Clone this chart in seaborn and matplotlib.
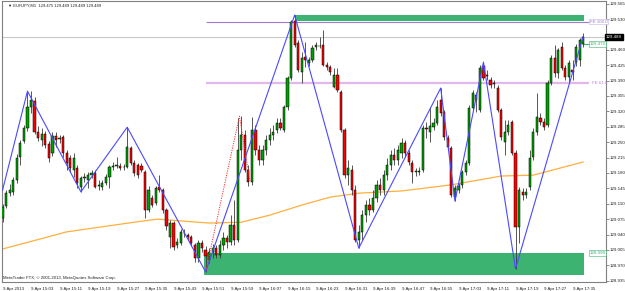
import numpy as np
import pandas as pd
import seaborn as sns
import matplotlib.pyplot as plt
from matplotlib.patches import Rectangle

sns.set_theme(style="white")
plt.rcParams['font.family'] = ['Liberation Sans', 'DejaVu Sans']

# EURJPY M1 bars, 14:55 .. 17:38
opens = [129.078, 129.105, 129.134, 129.137, 129.164, 129.216, 129.253, 129.282, 129.330, 129.343,
         129.273, 129.255, 129.268, 129.246, 129.225, 129.264, 129.257, 129.262, 129.225, 129.214,
         129.187, 129.191, 129.148, 129.168, 129.164, 129.175, 129.180, 129.150, 129.148, 129.157,
         129.171, 129.193, 129.196, 129.196, 129.193, 129.193, 129.237, 129.203, 129.198, 129.196,
         129.182, 129.096, 129.123, 129.112, 129.148, 129.141, 129.096, 129.034, 129.066, 129.016,
         129.021, 129.044, 129.039, 129.034, 129.016, 128.987, 129.021, 129.005, 128.982, 129.000,
         129.009, 128.994, 129.016, 129.032, 129.023, 129.062, 129.028, 129.232, 129.266, 129.187,
         129.159, 129.278, 129.232, 129.209, 129.232, 129.255, 129.266, 129.278, 129.293, 129.278,
         129.330, 129.396, 129.525, 129.475, 129.409, 129.443, 129.430, 129.437, 129.466, 129.468,
         129.471, 129.425, 129.421, 129.375, 129.402, 129.364, 129.278, 129.175, 129.187, 129.141,
         129.028, 129.046, 129.084, 129.107, 129.096, 129.123, 129.152, 129.141, 129.175, 129.198,
         129.221, 129.209, 129.225, 129.248, 129.225, 129.203, 129.182, 129.182, 129.187, 129.282,
         129.273, 129.284, 129.293, 129.346, 129.318, 129.259, 129.237, 129.125, 129.141, 129.152,
         129.182, 129.203, 129.327, 129.346, 129.323, 129.423, 129.402, 129.391, 129.384, 129.373,
         129.323, 129.250, 129.273, 129.296, 129.225, 129.057, 129.137, 129.130, 129.148, 129.216,
         129.273, 129.305, 129.296, 129.289, 129.384, 129.441, 129.407, 129.466, 129.418, 129.398,
         129.414, 129.432, 129.437, 129.473]
highs = [129.109, 129.141, 129.155, 129.171, 129.223, 129.255, 129.289, 129.364, 129.366, 129.353,
         129.287, 129.282, 129.275, 129.253, 129.273, 129.273, 129.266, 129.266, 129.232, 129.221,
         129.225, 129.198, 129.173, 129.180, 129.182, 129.187, 129.187, 129.164, 129.164, 129.178,
         129.198, 129.205, 129.216, 129.203, 129.200, 129.284, 129.241, 129.209, 129.203, 129.203,
         129.187, 129.150, 129.130, 129.150, 129.175, 129.146, 129.100, 129.073, 129.071, 129.032,
         129.053, 129.053, 129.044, 129.039, 129.021, 129.028, 129.028, 129.014, 129.009, 129.018,
         129.016, 129.028, 129.046, 129.039, 129.084, 129.118, 129.305, 129.309, 129.278, 129.198,
         129.307, 129.289, 129.243, 129.243, 129.266, 129.282, 129.289, 129.305, 129.305, 129.334,
         129.400, 129.528, 129.539, 129.482, 129.455, 129.478, 129.443, 129.471, 129.478, 129.489,
         129.505, 129.432, 129.425, 129.418, 129.418, 129.368, 129.282, 129.209, 129.198, 129.152,
         129.062, 129.096, 129.118, 129.123, 129.141, 129.164, 129.168, 129.187, 129.214, 129.232,
         129.237, 129.243, 129.259, 129.255, 129.232, 129.209, 129.191, 129.193, 129.289, 129.296,
         129.330, 129.305, 129.346, 129.373, 129.323, 129.266, 129.241, 129.152, 129.157, 129.187,
         129.209, 129.334, 129.368, 129.364, 129.425, 129.432, 129.414, 129.398, 129.391, 129.380,
         129.328, 129.300, 129.300, 129.300, 129.232, 129.148, 129.146, 129.146, 129.232, 129.282,
         129.362, 129.316, 129.305, 129.391, 129.448, 129.471, 129.464, 129.478, 129.425, 129.437,
         129.437, 129.473, 129.487, 129.498]
lows = [129.068, 129.100, 129.128, 129.130, 129.157, 129.198, 129.248, 129.275, 129.316, 129.268,
        129.253, 129.241, 129.237, 129.205, 129.218, 129.239, 129.248, 129.216, 129.187, 129.182,
        129.171, 129.146, 129.137, 129.159, 129.146, 129.168, 129.146, 129.141, 129.141, 129.152,
        129.146, 129.187, 129.191, 129.187, 129.187, 129.191, 129.198, 129.173, 129.168, 129.182,
        129.078, 129.091, 129.103, 129.107, 129.137, 129.089, 129.050, 129.009, 129.005, 129.009,
        129.016, 129.034, 129.028, 129.014, 128.978, 128.978, 129.000, 128.955, 128.975, 128.987,
        128.987, 128.987, 129.005, 129.009, 129.016, 129.016, 129.023, 129.209, 129.182, 129.150,
        129.152, 129.221, 129.198, 129.198, 129.221, 129.243, 129.255, 129.271, 129.278, 129.273,
        129.323, 129.391, 129.466, 129.409, 129.384, 129.421, 129.423, 129.432, 129.459, 129.464,
        129.423, 129.414, 129.402, 129.373, 129.364, 129.273, 129.168, 129.152, 129.130, 129.023,
        129.009, 129.028, 129.068, 129.084, 129.091, 129.114, 129.130, 129.130, 129.164, 129.187,
        129.198, 129.198, 129.214, 129.216, 129.198, 129.157, 129.173, 129.175, 129.182, 129.259,
        129.250, 129.278, 129.289, 129.309, 129.255, 129.232, 129.125, 129.116, 129.134, 129.146,
        129.175, 129.198, 129.323, 129.318, 129.318, 129.391, 129.391, 129.373, 129.373, 129.318,
        129.255, 129.221, 129.266, 129.221, 128.962, 129.021, 129.118, 129.123, 129.141, 129.209,
        129.266, 129.289, 129.278, 129.284, 129.380, 129.398, 129.396, 129.414, 129.391, 129.387,
        129.391, 129.423, 129.423, 129.466]
closes = [129.103, 129.134, 129.141, 129.164, 129.214, 129.248, 129.282, 129.330, 129.346, 129.273,
          129.259, 129.268, 129.243, 129.214, 129.264, 129.255, 129.259, 129.225, 129.203, 129.191,
          129.214, 129.157, 129.168, 129.171, 129.175, 129.180, 129.148, 129.152, 129.157, 129.171,
          129.193, 129.196, 129.198, 129.191, 129.194, 129.239, 129.203, 129.180, 129.175, 129.187,
          129.096, 129.141, 129.107, 129.146, 129.141, 129.096, 129.059, 129.066, 129.012, 129.023,
          129.046, 129.043, 129.034, 129.021, 128.987, 129.021, 129.009, 128.991, 129.000, 129.009,
          128.994, 129.016, 129.032, 129.023, 129.062, 129.028, 129.232, 129.266, 129.187, 129.159,
          129.278, 129.232, 129.209, 129.232, 129.255, 129.266, 129.273, 129.293, 129.282, 129.330,
          129.396, 129.523, 129.471, 129.414, 129.441, 129.437, 129.437, 129.464, 129.471, 129.469,
          129.425, 129.421, 129.409, 129.402, 129.368, 129.278, 129.175, 129.191, 129.141, 129.028,
          129.046, 129.084, 129.107, 129.096, 129.123, 129.152, 129.141, 129.175, 129.198, 129.221,
          129.209, 129.232, 129.248, 129.225, 129.205, 129.182, 129.184, 129.184, 129.282, 129.280,
          129.287, 129.293, 129.330, 129.316, 129.262, 129.239, 129.130, 129.146, 129.150, 129.182,
          129.203, 129.327, 129.362, 129.357, 129.418, 129.396, 129.400, 129.380, 129.382, 129.323,
          129.262, 129.273, 129.289, 129.225, 129.057, 129.141, 129.130, 129.137, 129.214, 129.273,
          129.307, 129.296, 129.284, 129.384, 129.441, 129.407, 129.459, 129.418, 129.398, 129.430,
          129.409, 129.466, 129.482, 129.489]

time_labels = ["9 Apr 2013", "9 Apr 15:03", "9 Apr 15:11", "9 Apr 15:19", "9 Apr 15:27",
               "9 Apr 15:35", "9 Apr 15:43", "9 Apr 15:51", "9 Apr 15:59", "9 Apr 16:07",
               "9 Apr 16:15", "9 Apr 16:23", "9 Apr 16:31", "9 Apr 16:39", "9 Apr 16:47",
               "9 Apr 16:55", "9 Apr 17:03", "9 Apr 17:11", "9 Apr 17:19", "9 Apr 17:27",
               "9 Apr 17:35"]
price_ticks = [128.935, 128.970, 129.005, 129.040, 129.075, 129.110, 129.145, 129.180, 129.215,
               129.250, 129.285, 129.320, 129.355, 129.390, 129.425, 129.460, 129.530, 129.565]

# zigzag pivots (bar index, price)
zz_bars = [0, 7, 22, 35, 57, 82, 100, 123, 127, 135, 144, 163]
zz_prices = [129.141, 129.366, 129.137, 129.284, 128.955, 129.539, 129.009, 129.373, 129.116,
             129.432, 128.962, 129.491]

# fibo expansion anchor points
fe_bars = [57, 66.5, 69.5]
fe_prices = [128.955, 129.309, 129.159]

# moving average
ma_bars = [0, 18, 37, 43.5, 58, 67, 75, 84, 92, 100, 112, 126, 140, 149, 163]
ma_prices = [129.007, 129.046, 129.068, 129.075, 129.066, 129.068, 129.084, 129.107, 129.125,
             129.134, 129.139, 129.153, 129.173, 129.175, 129.205]

bid = 129.489
fe100 = 129.524
fe618 = 129.385
order_price = 129.473
upper_zone = [129.525, 129.539]
lower_zone = [128.948, 128.998]

df = pd.DataFrame({'bar': np.arange(len(closes)), 'open': opens, 'high': highs,
                   'low': lows, 'close': closes})

fig = plt.figure(figsize=(6.25, 2.91), dpi=100)
ax = fig.add_axes([2 / 625, 9 / 291, 604 / 625, 281 / 291])

# zones
ax.add_patch(Rectangle((82, upper_zone[0]), 163.2 - 82, upper_zone[1] - upper_zone[0],
                       color='#3cb371', lw=0, zorder=1))
ax.add_patch(Rectangle((56.5, lower_zone[0]), 163.2 - 56.5, lower_zone[1] - lower_zone[0],
                       color='#3cb371', lw=0, zorder=1))

ax.axhline(bid, color='#c8c8c8', lw=0.8, zorder=0.5)
ax.hlines(fe100, 57, 164.6, color='#9a7bd0', lw=0.8, zorder=1.5)
ax.hlines(fe618, 57, 164.6, color='#e2b8ec', lw=1.6, zorder=1.5)
ax.hlines(order_price, 163, 164.6, color='#3cb371', lw=0.8, zorder=1.5)

sns.lineplot(x=ma_bars, y=ma_prices, color='#ffb03c', lw=0.9, ax=ax, zorder=2)

# candles
up = df['close'] >= df['open']
ax.vlines(df['bar'], df['low'], df['high'], color='#3a3a3a', lw=0.6, zorder=3)
ax.bar(df['bar'][up], (df['close'] - df['open'])[up], bottom=df['open'][up], width=0.62,
       color='#00a000', edgecolor='black', lw=0.35, zorder=4)
ax.bar(df['bar'][~up], (df['open'] - df['close'])[~up], bottom=df['close'][~up], width=0.62,
       color='#ff0000', edgecolor='black', lw=0.35, zorder=4)

sns.lineplot(x=zz_bars, y=zz_prices, color='#4a4aff', lw=0.8, ax=ax, zorder=5,
             estimator=None, sort=False)
sns.lineplot(x=fe_bars, y=fe_prices, color='#ff3030', lw=0.7, ax=ax, zorder=5,
             estimator=None, sort=False, linestyle=(0, (1.2, 1.2)))

fs = 3.2
ax.text(164.8, fe100, 'FE 100.0', color='#9a7bd0', fontsize=fs, va='center', ha='left',
        bbox=dict(boxstyle='square,pad=0.15', fc='white', ec='#c6b2ea', lw=0.4), zorder=6)
ax.text(164.8, order_price, '129.473', color='#3cb371', fontsize=fs, va='center', ha='left',
        bbox=dict(boxstyle='square,pad=0.15', fc='white', ec='#3cb371', lw=0.4), zorder=6)
ax.text(165.5, fe618, 'FE 61.8', color='#b487d6', fontsize=fs, va='center', ha='left', zorder=6)
ax.text(164.8, lower_zone[1], '128.998', color='#3cb371', fontsize=fs, va='center', ha='left',
        bbox=dict(boxstyle='square,pad=0.15', fc='white', ec='#3cb371', lw=0.4), zorder=6)

ax.set_xlim(-0.15, 169.4)
ax.set_ylim(128.932, 129.571)
ax.set_xlabel('')
ax.set_ylabel('')

ax.set_xticks(range(0, 161, 8))
ax.set_xticklabels(time_labels, ha='left', fontsize=fs)
ax.yaxis.tick_right()
ax.set_yticks(price_ticks)
ax.set_yticklabels([f'{p:.3f}' for p in price_ticks], fontsize=fs)
ax.tick_params(axis='both', direction='out', length=2, width=0.5, color='#606060', pad=0.6,
               labelcolor='#202020')
ax.tick_params(axis='x', pad=1.5)
for s in ax.spines.values():
    s.set_color('#808080')
    s.set_linewidth(0.8)
ax.grid(False)

ax.text(1.0, bid, f'{bid:.3f}', transform=ax.get_yaxis_transform(), color='white',
        fontsize=fs, va='center', ha='left',
        bbox=dict(boxstyle='square,pad=0.2', fc='black', ec='black'), clip_on=False)

fig.text(8 / 625, 1 - 6 / 291, '\u25bc EURJPY,M1  129.475 129.489 129.489 129.489',
         fontsize=3.0, va='center', ha='left', color='#202020')
fig.text(3 / 625, 1 - 278 / 291, 'MetaTrader FTX, \u00a9 2001-2013, MetaQuotes Software Corp.',
         fontsize=3.1, va='center', ha='left', color='#202020')

fig.savefig('out.png', dpi=100)
